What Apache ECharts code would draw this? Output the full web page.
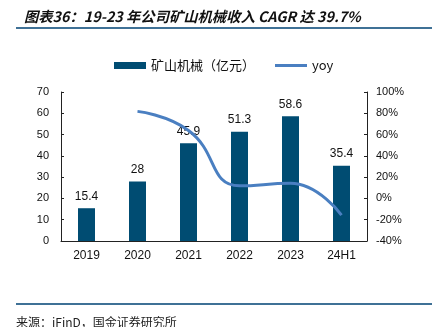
<!DOCTYPE html>
<html><head><meta charset="utf-8">
<script src="https://cdn.jsdelivr.net/npm/echarts@6/dist/echarts.min.js"></script>
<style>html,body{margin:0;padding:0;background:#fff}#c{width:432px;height:327px}</style>
</head><body><div id="c"></div>
<script>
const categories = ['2019','2020','2021','2022','2023','24H1'];
const revenue = [15.4, 28, 45.9, 51.3, 58.6, 35.4];
const yoy = [null, 81.8, 63.9, 11.8, 14.2, -15.6];
const leftTicks = [0, 70, 10];
const rightTicks = [-40, 100, 20];

const chart = echarts.init(document.getElementById('c'), null, {renderer:'canvas'});
const lab = {color:'#111', fontSize:11, fontFamily:'Liberation Sans, Arial, sans-serif'};
chart.setOption({
  animation:false,
  title:{text:'图表36：19-23 年公司矿山机械收入 CAGR 达 39.7%', left:19, top:4,
    textStyle:{fontSize:14.3, fontWeight:'bold', fontStyle:'italic', color:'#111', fontFamily:'Noto Sans CJK SC'}},
  graphic:[
    {type:'rect', shape:{x:16,y:27,width:416,height:2}, style:{fill:'#3f7196'}},
    {type:'rect', shape:{x:16,y:303,width:416,height:2}, style:{fill:'#3f7196'}},
    {type:'text', left:16, top:316, style:{text:'来源：iFinD，国金证券研究所', fontSize:12, fill:'#222', fontFamily:'Noto Sans CJK SC'}}
  ],
  legend:{top:54, left:109, itemGap:20, itemWidth:32, itemHeight:7,
    textStyle:{fontSize:13, color:'#111', fontFamily:'Noto Sans CJK SC'},
    data:[{name:'矿山机械（亿元）', icon:'rect'},{name:'yoy', icon:'path://M0,2 L32,2 L32,5 L0,5 Z', itemStyle:{color:'#4a7fc1'}}]},
  grid:{left:61, right:65, top:92, bottom:86},
  xAxis:{type:'category', data:categories,
    axisLine:{lineStyle:{color:'#222'}}, axisTick:{inside:true, length:3, lineStyle:{color:'#222'}},
    axisLabel:Object.assign({}, lab, {margin:9, fontSize:12})},
  yAxis:[
    {type:'value', min:leftTicks[0], max:leftTicks[1], interval:leftTicks[2], splitLine:{show:false},
     axisLine:{show:true, lineStyle:{color:'#222'}}, axisTick:{show:true, inside:true, length:3, lineStyle:{color:'#222'}},
     axisLabel:Object.assign({margin:12}, lab)},
    {type:'value', min:rightTicks[0], max:rightTicks[1], interval:rightTicks[2], splitLine:{show:false},
     axisLine:{show:true, lineStyle:{color:'#222'}}, axisTick:{show:true, inside:true, length:3, lineStyle:{color:'#222'}},
     axisLabel:Object.assign({margin:9, formatter:'{value}%'}, lab)}
  ],
  series:[
    {name:'矿山机械（亿元）', type:'bar', data:revenue, barWidth:17, itemStyle:{color:'#004c72'},
     label:{show:true, position:'top', distance:6, color:'#111', fontSize:12, fontFamily:'Liberation Sans, Arial, sans-serif'}},
    {name:'yoy', type:'line', yAxisIndex:1, data:yoy, smooth:0.5, showSymbol:false, symbol:'none',
     lineStyle:{width:3, color:'#4a7fc1'}, itemStyle:{color:'#4a7fc1'}}
  ]
});
</script></body></html>
